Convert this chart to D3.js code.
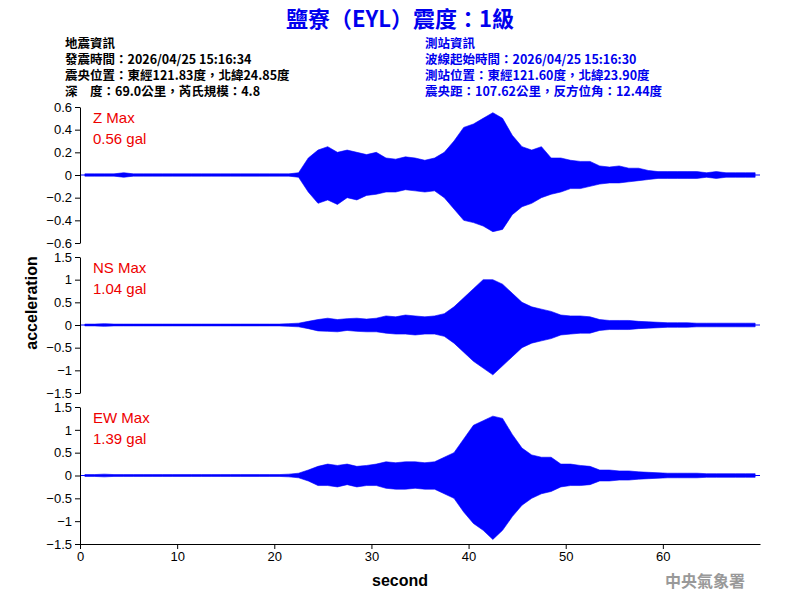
<!DOCTYPE html>
<html><head><meta charset="utf-8">
<script src="https://cdn.jsdelivr.net/npm/d3@7"></script>
<style>body{margin:0;background:#fff}text{font-family:"Liberation Sans",Arial,sans-serif}</style>
</head><body><svg id="chart" width="800" height="600"></svg>
<script>
// per-second envelope (max / min), seconds 0..69
const seconds = d3.range(70);
const zMax  = [0.01,0.01,0.01,0.01,0.02,0.01,0.01,0.01,0.01,0.01,0.01,0.01,0.01,0.01,0.01,0.01,0.01,0.01,0.01,0.01,0.01,0.01,0.02,0.15,0.22,0.25,0.2,0.22,0.2,0.18,0.2,0.15,0.14,0.16,0.15,0.13,0.15,0.2,0.3,0.42,0.45,0.5,0.55,0.5,0.35,0.25,0.22,0.25,0.15,0.15,0.13,0.12,0.12,0.08,0.07,0.08,0.06,0.06,0.04,0.03,0.03,0.03,0.03,0.03,0.02,0.03,0.02,0.02,0.02,0.02];
const zMin  = [-0.01,-0.01,-0.01,-0.01,-0.02,-0.01,-0.01,-0.01,-0.01,-0.01,-0.01,-0.01,-0.01,-0.01,-0.01,-0.01,-0.01,-0.01,-0.01,-0.01,-0.01,-0.01,-0.02,-0.15,-0.25,-0.22,-0.26,-0.2,-0.22,-0.18,-0.17,-0.15,-0.15,-0.13,-0.14,-0.15,-0.14,-0.2,-0.3,-0.4,-0.42,-0.45,-0.5,-0.48,-0.35,-0.28,-0.25,-0.2,-0.17,-0.15,-0.12,-0.12,-0.1,-0.08,-0.07,-0.07,-0.06,-0.05,-0.04,-0.03,-0.03,-0.03,-0.03,-0.03,-0.02,-0.03,-0.02,-0.02,-0.02,-0.02];
const nsMax = [0.02,0.02,0.03,0.02,0.02,0.02,0.02,0.02,0.02,0.02,0.02,0.02,0.02,0.02,0.02,0.02,0.02,0.02,0.02,0.02,0.02,0.03,0.04,0.08,0.12,0.15,0.12,0.14,0.15,0.13,0.15,0.2,0.18,0.22,0.2,0.18,0.2,0.25,0.4,0.6,0.8,1.0,1.0,0.9,0.7,0.5,0.4,0.35,0.3,0.22,0.2,0.2,0.18,0.12,0.1,0.1,0.1,0.08,0.07,0.06,0.05,0.05,0.05,0.04,0.04,0.04,0.04,0.04,0.04,0.04];
const nsMin = [-0.02,-0.02,-0.03,-0.02,-0.02,-0.02,-0.02,-0.02,-0.02,-0.02,-0.02,-0.02,-0.02,-0.02,-0.02,-0.02,-0.02,-0.02,-0.02,-0.02,-0.02,-0.03,-0.04,-0.08,-0.13,-0.14,-0.15,-0.12,-0.14,-0.15,-0.15,-0.18,-0.2,-0.2,-0.22,-0.2,-0.2,-0.25,-0.4,-0.6,-0.8,-0.95,-1.1,-0.9,-0.7,-0.5,-0.4,-0.35,-0.3,-0.22,-0.2,-0.18,-0.18,-0.12,-0.1,-0.1,-0.1,-0.08,-0.07,-0.06,-0.05,-0.05,-0.05,-0.04,-0.04,-0.04,-0.04,-0.04,-0.04,-0.04];
const ewMax = [0.02,0.02,0.03,0.02,0.02,0.02,0.02,0.02,0.02,0.02,0.02,0.02,0.02,0.02,0.02,0.02,0.02,0.02,0.02,0.02,0.02,0.03,0.05,0.12,0.2,0.25,0.22,0.25,0.2,0.22,0.25,0.3,0.28,0.3,0.3,0.28,0.3,0.4,0.5,0.8,1.1,1.2,1.3,1.25,0.9,0.6,0.45,0.4,0.4,0.25,0.25,0.22,0.2,0.12,0.12,0.1,0.1,0.08,0.07,0.06,0.05,0.05,0.05,0.05,0.04,0.04,0.04,0.04,0.04,0.04];
const ewMin = [-0.02,-0.02,-0.03,-0.02,-0.02,-0.02,-0.02,-0.02,-0.02,-0.02,-0.02,-0.02,-0.02,-0.02,-0.02,-0.02,-0.02,-0.02,-0.02,-0.02,-0.02,-0.03,-0.05,-0.12,-0.22,-0.22,-0.25,-0.2,-0.25,-0.22,-0.22,-0.28,-0.3,-0.3,-0.28,-0.3,-0.3,-0.4,-0.5,-0.8,-1.05,-1.2,-1.4,-1.2,-0.9,-0.65,-0.5,-0.4,-0.35,-0.25,-0.22,-0.22,-0.2,-0.12,-0.12,-0.1,-0.1,-0.08,-0.07,-0.06,-0.05,-0.05,-0.05,-0.05,-0.04,-0.04,-0.04,-0.04,-0.04,-0.04];

const panels = [
  {name: "Z Max",  peak: "0.56 gal", max: zMax,  min: zMin,  lim: 0.6, ticks: d3.range(-0.6, 0.61, 0.2), top: 107, bottom: 243},
  {name: "NS Max", peak: "1.04 gal", max: nsMax, min: nsMin, lim: 1.5, ticks: d3.range(-1.5, 1.51, 0.5), top: 257, bottom: 393},
  {name: "EW Max", peak: "1.39 gal", max: ewMax, min: ewMin, lim: 1.5, ticks: d3.range(-1.5, 1.51, 0.5), top: 407, bottom: 544}
];
const xTicks = [0, 10, 20, 30, 40, 50, 60];

const infoLeft = ["地震資訊", "發震時間：2026/04/25 15:16:34", "震央位置：東經121.83度，北緯24.85度", "深　度：69.0公里，芮氏規模：4.8"];
const infoRight = ["測站資訊", "波線起始時間：2026/04/25 15:16:30", "測站位置：東經121.60度，北緯23.90度", "震央距：107.62公里，反方位角：12.44度"];

const svg = d3.select("#chart");
const marginLeft = 80, plotRight = 760;

const x = d3.scaleLinear().domain([0, 70]).range([marginLeft, plotRight]);

svg.append("text").attr("x", 400).attr("y", 27).attr("text-anchor", "middle")
  .attr("fill", "#0000ee").attr("font-size", 22).attr("font-weight", "bold")
  .style("font-family", "'Noto Sans CJK TC'").text("鹽寮（EYL）震度：1級");

infoLeft.forEach((t, i) => svg.append("text").attr("x", 65).attr("y", 48 + i * 16)
  .attr("font-size", 12.5).attr("font-weight", "bold").style("font-family", "'Noto Sans CJK TC'").text(t));
infoRight.forEach((t, i) => svg.append("text").attr("x", 425).attr("y", 48 + i * 16)
  .attr("font-size", 12.5).attr("font-weight", "bold").attr("fill", "#0000ee").style("font-family", "'Noto Sans CJK TC'").text(t));

panels.forEach(p => {
  const y = d3.scaleLinear().domain([-p.lim, p.lim]).range([p.bottom, p.top]);
  const g = svg.append("g");

  const area = d3.area()
    .x((d, i) => x(seconds[i] + 0.5))
    .y0((d, i) => y(p.min[i]))
    .y1((d, i) => y(p.max[i]));
  g.append("path").datum(p.max).attr("d", area).attr("fill", "#0000ff").attr("stroke", "#0000ff").attr("stroke-width", 0.6);
  g.append("line").attr("x1", x(0)).attr("x2", x(70)).attr("y1", y(0)).attr("y2", y(0)).attr("stroke", "#0000ff");

  g.append("g").attr("transform", `translate(${marginLeft},0)`)
    .call(d3.axisLeft(y).tickValues(p.ticks).tickSize(5).tickSizeOuter(0)
      .tickFormat(v => Math.abs(v) < 1e-9 ? "0" : d3.format("~g")(+v.toFixed(2))))
    .call(a => a.selectAll("text").attr("font-size", 13).attr("fill", "#000"));

  g.append("text").attr("x", 93).attr("y", p.top + 16).attr("fill", "#ee0000").attr("font-size", 15).text(p.name);
  g.append("text").attr("x", 93).attr("y", p.top + 37).attr("fill", "#ee0000").attr("font-size", 15).text(p.peak);
});

svg.append("g").attr("transform", `translate(0,544)`)
  .call(d3.axisBottom(x).tickValues(xTicks).tickSize(5).tickSizeOuter(0))
  .call(a => a.selectAll("text").attr("font-size", 13).attr("fill", "#000"));

svg.append("text").attr("transform", "translate(37,303) rotate(-90)").attr("text-anchor", "middle")
  .attr("font-size", 16).attr("font-weight", "bold").text("acceleration");
svg.append("text").attr("x", 400).attr("y", 586).attr("text-anchor", "middle")
  .attr("font-size", 16).attr("font-weight", "bold").text("second");
svg.append("text").attr("x", 745).attr("y", 587).attr("text-anchor", "end").attr("fill", "#999")
  .attr("font-size", 16).attr("font-weight", "bold").style("font-family", "'Noto Sans CJK TC'").text("中央氣象署");
</script></body></html>
